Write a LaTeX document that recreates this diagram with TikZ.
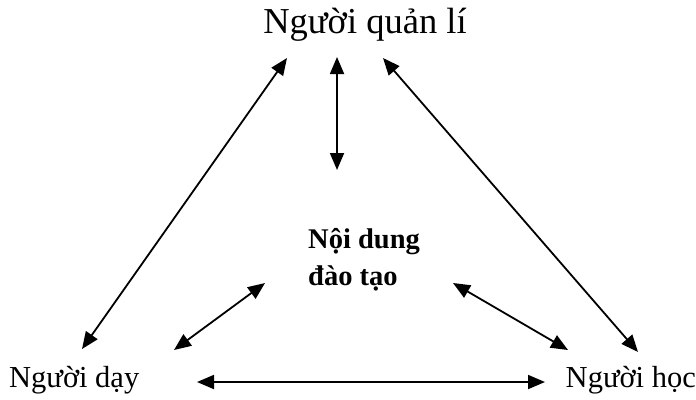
\documentclass[tikz,border=0pt]{standalone}
\usepackage{fontspec}
\setmainfont{Liberation Serif}
\usetikzlibrary{arrows.meta}
\begin{document}
\begin{tikzpicture}[x=1pt,y=-1pt,
  role/.style={inner sep=0pt,font=\fontsize{30.5}{36}\selectfont},
  toprole/.style={inner sep=0pt,font=\fontsize{36.5}{42}\selectfont},
  content/.style={inner sep=0pt,align=left,font=\fontsize{28.5}{37}\selectfont\bfseries},
  link/.style={line width=1.8pt,{Triangle[length=17pt,width=14pt]}-{Triangle[length=17pt,width=14pt]}}]
\useasboundingbox (0,0) rectangle (696,399);
\node[toprole,anchor=base] (top) at (365,33) {Người quản lí};
\node[role,anchor=base west] (left) at (9,387) {Người dạy};
\node[role,anchor=base east] (right) at (696,387) {Người học};
\node[content,anchor=base west] (mid) at (308,285) {Nội dung\\đào tạo};
\coordinate (a1) at (287,58);  \coordinate (b1) at (82,349);
\coordinate (a2) at (337,57);  \coordinate (b2) at (337,170);
\coordinate (a3) at (383,58);  \coordinate (b3) at (638,352);
\coordinate (a4) at (265,283); \coordinate (b4) at (174,350);
\coordinate (a5) at (453,283); \coordinate (b5) at (568,350);
\coordinate (a6) at (197,382); \coordinate (b6) at (545,382);
\draw[link] (a1) -- (b1);
\draw[link] (a2) -- (b2);
\draw[link] (a3) -- (b3);
\draw[link] (a4) -- (b4);
\draw[link] (a5) -- (b5);
\draw[link] (a6) -- (b6);
\end{tikzpicture}
\end{document}
